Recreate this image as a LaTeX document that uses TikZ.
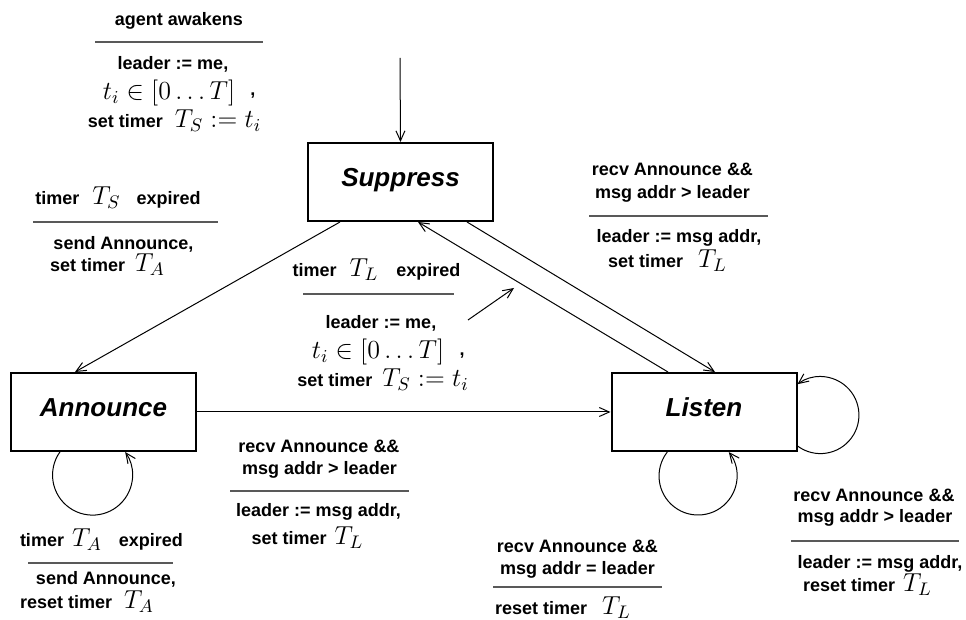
\RequirePackage{fix-cm}
\documentclass[tikz,border=0pt]{standalone}
\usepackage{fontspec}
\setsansfont{Liberation Sans}
\usetikzlibrary{arrows.meta}
\newcommand\mm[1]{{\fontsize{13}{13}\selectfont$#1$}}
\begin{document}
\begin{tikzpicture}[x=0.5pt,y=-0.5pt,
  state/.style={draw, line width=1pt, minimum width=92.5pt, minimum height=39pt, inner sep=0pt,
    text height=9pt, text depth=4pt, font=\fontsize{13}{15}\selectfont\sffamily\bfseries\itshape},
  lbl/.style={anchor=base, inner sep=0pt, font=\fontsize{9}{11}\selectfont\sffamily\bfseries},
  conn/.style={line width=0.5pt, -{Straight Barb[length=5pt,width=4.5pt]}},
  rulel/.style={line width=0.6pt, black!65}]
\useasboundingbox (0,0) rectangle (966,620);

% states
\node[state] (sup) at (400.5,182) {Suppress};
\node[state] (ann) at (103.5,412) {Announce};
\node[state] (lis) at (704,412) {Listen};

% connectors
\coordinate (init) at (400,58);
\draw[conn] (init) -- (sup.north);
\draw[conn] ([xshift=-30.25pt]sup.south) -- ([xshift=-14.25pt]ann.north);
\draw[conn] ([xshift=-18pt]lis.north) -- ([xshift=8.75pt]sup.south);
\draw[conn] ([xshift=33.25pt]sup.south) -- ([xshift=5.5pt]lis.north);
\draw[conn] (ann.east) -- (lis.west);
\coordinate (pa) at (468,320);
\coordinate (pb) at (514,288);
\draw[conn] (pa) -- (pb);

% self loops
\draw[conn] ([xshift=-21.8pt]ann.south) arc[start angle=215.3, end angle=-35.3, radius=40];
\draw[conn] ([xshift=-18.35pt]lis.south) arc[start angle=218, end angle=-38, radius=39];
\draw[conn] ([yshift=-17pt]lis.east) arc[start angle=126.6, end angle=-126.6, radius=38.5];

% label A
\node[lbl] (aw) at (179,26) {agent awakens};
\draw[rulel] (95,42) -- (263,42);
\node[lbl] (a1) at (173,70) {leader := me,};
\node[lbl] (a2) at (169,100) {\mm{t_i\in[0\ldots T]}};
\node[lbl] (a3) at (253,96) {,};
\node[lbl] (a4) at (174.5,128) {set timer\hspace{6pt}\mm{T_S:=t_i}};

% label B
\node[lbl] (b1) at (118,205) {timer\hspace{6.5pt}\mm{T_S}\hspace{8pt}expired};
\draw[rulel] (33,222) -- (218,222);
\node[lbl] (b2) at (123.5,250) {send Announce,};
\node[lbl] (b3) at (107.5,272) {set timer\hspace{5pt}\mm{T_A}};

% label C
\node[lbl] (c1) at (672.5,176) {recv Announce \&\&};
\node[lbl] (c2) at (672.5,199) {msg addr > leader};
\draw[rulel] (589,216) -- (768,216);
\node[lbl] (c3) at (679,243) {leader := msg addr,};
\node[lbl] (c4) at (667.5,268) {set timer\hspace{7.5pt}\mm{T_L}};

% label D
\node[lbl] (d1) at (376.5,277) {timer\hspace{6.5pt}\mm{T_L}\hspace{9pt}expired};
\draw[rulel] (303,294) -- (454,294);
\node[lbl] (d2) at (381,329) {leader := me,};
\node[lbl] (d3) at (378,359) {\mm{t_i\in[0\ldots T]}};
\node[lbl] (d4) at (462,356) {,};
\node[lbl] (d5) at (383,387) {set timer\hspace{5pt}\mm{T_S:=t_i}};

% label E
\node[lbl] (e1) at (319,453) {recv Announce \&\&};
\node[lbl] (e2) at (319.5,475) {msg addr > leader};
\draw[rulel] (230,491) -- (409,491);
\node[lbl] (e3) at (318.5,517) {leader := msg addr,};
\node[lbl] (e4) at (307.5,545) {set timer\hspace{4pt}\mm{T_L}};

% label F
\node[lbl] (f1) at (101.5,547) {timer\hspace{4pt}\mm{T_A}\hspace{8.5pt}expired};
\draw[rulel] (28,563) -- (173,563);
\node[lbl] (f2) at (106,585) {send Announce,};
\node[lbl] (f3) at (87,609) {reset timer\hspace{6pt}\mm{T_A}};

% label G
\node[lbl] (g1) at (577.5,553) {recv Announce \&\&};
\node[lbl] (g2) at (577.5,575) {msg addr = leader};
\draw[rulel] (493,587) -- (662,587);
\node[lbl] (g3) at (563,615) {reset timer\hspace{7.5pt}\mm{T_L}};

% label H
\node[lbl] (h1) at (874,502) {recv Announce \&\&};
\node[lbl] (h2) at (875,523) {msg addr > leader};
\draw[rulel] (791,541) -- (959,541);
\node[lbl] (h3) at (880,569) {leader := msg addr,};
\node[lbl] (h4) at (867.5,592) {reset timer\hspace{4pt}\mm{T_L}};
\end{tikzpicture}
\end{document}
